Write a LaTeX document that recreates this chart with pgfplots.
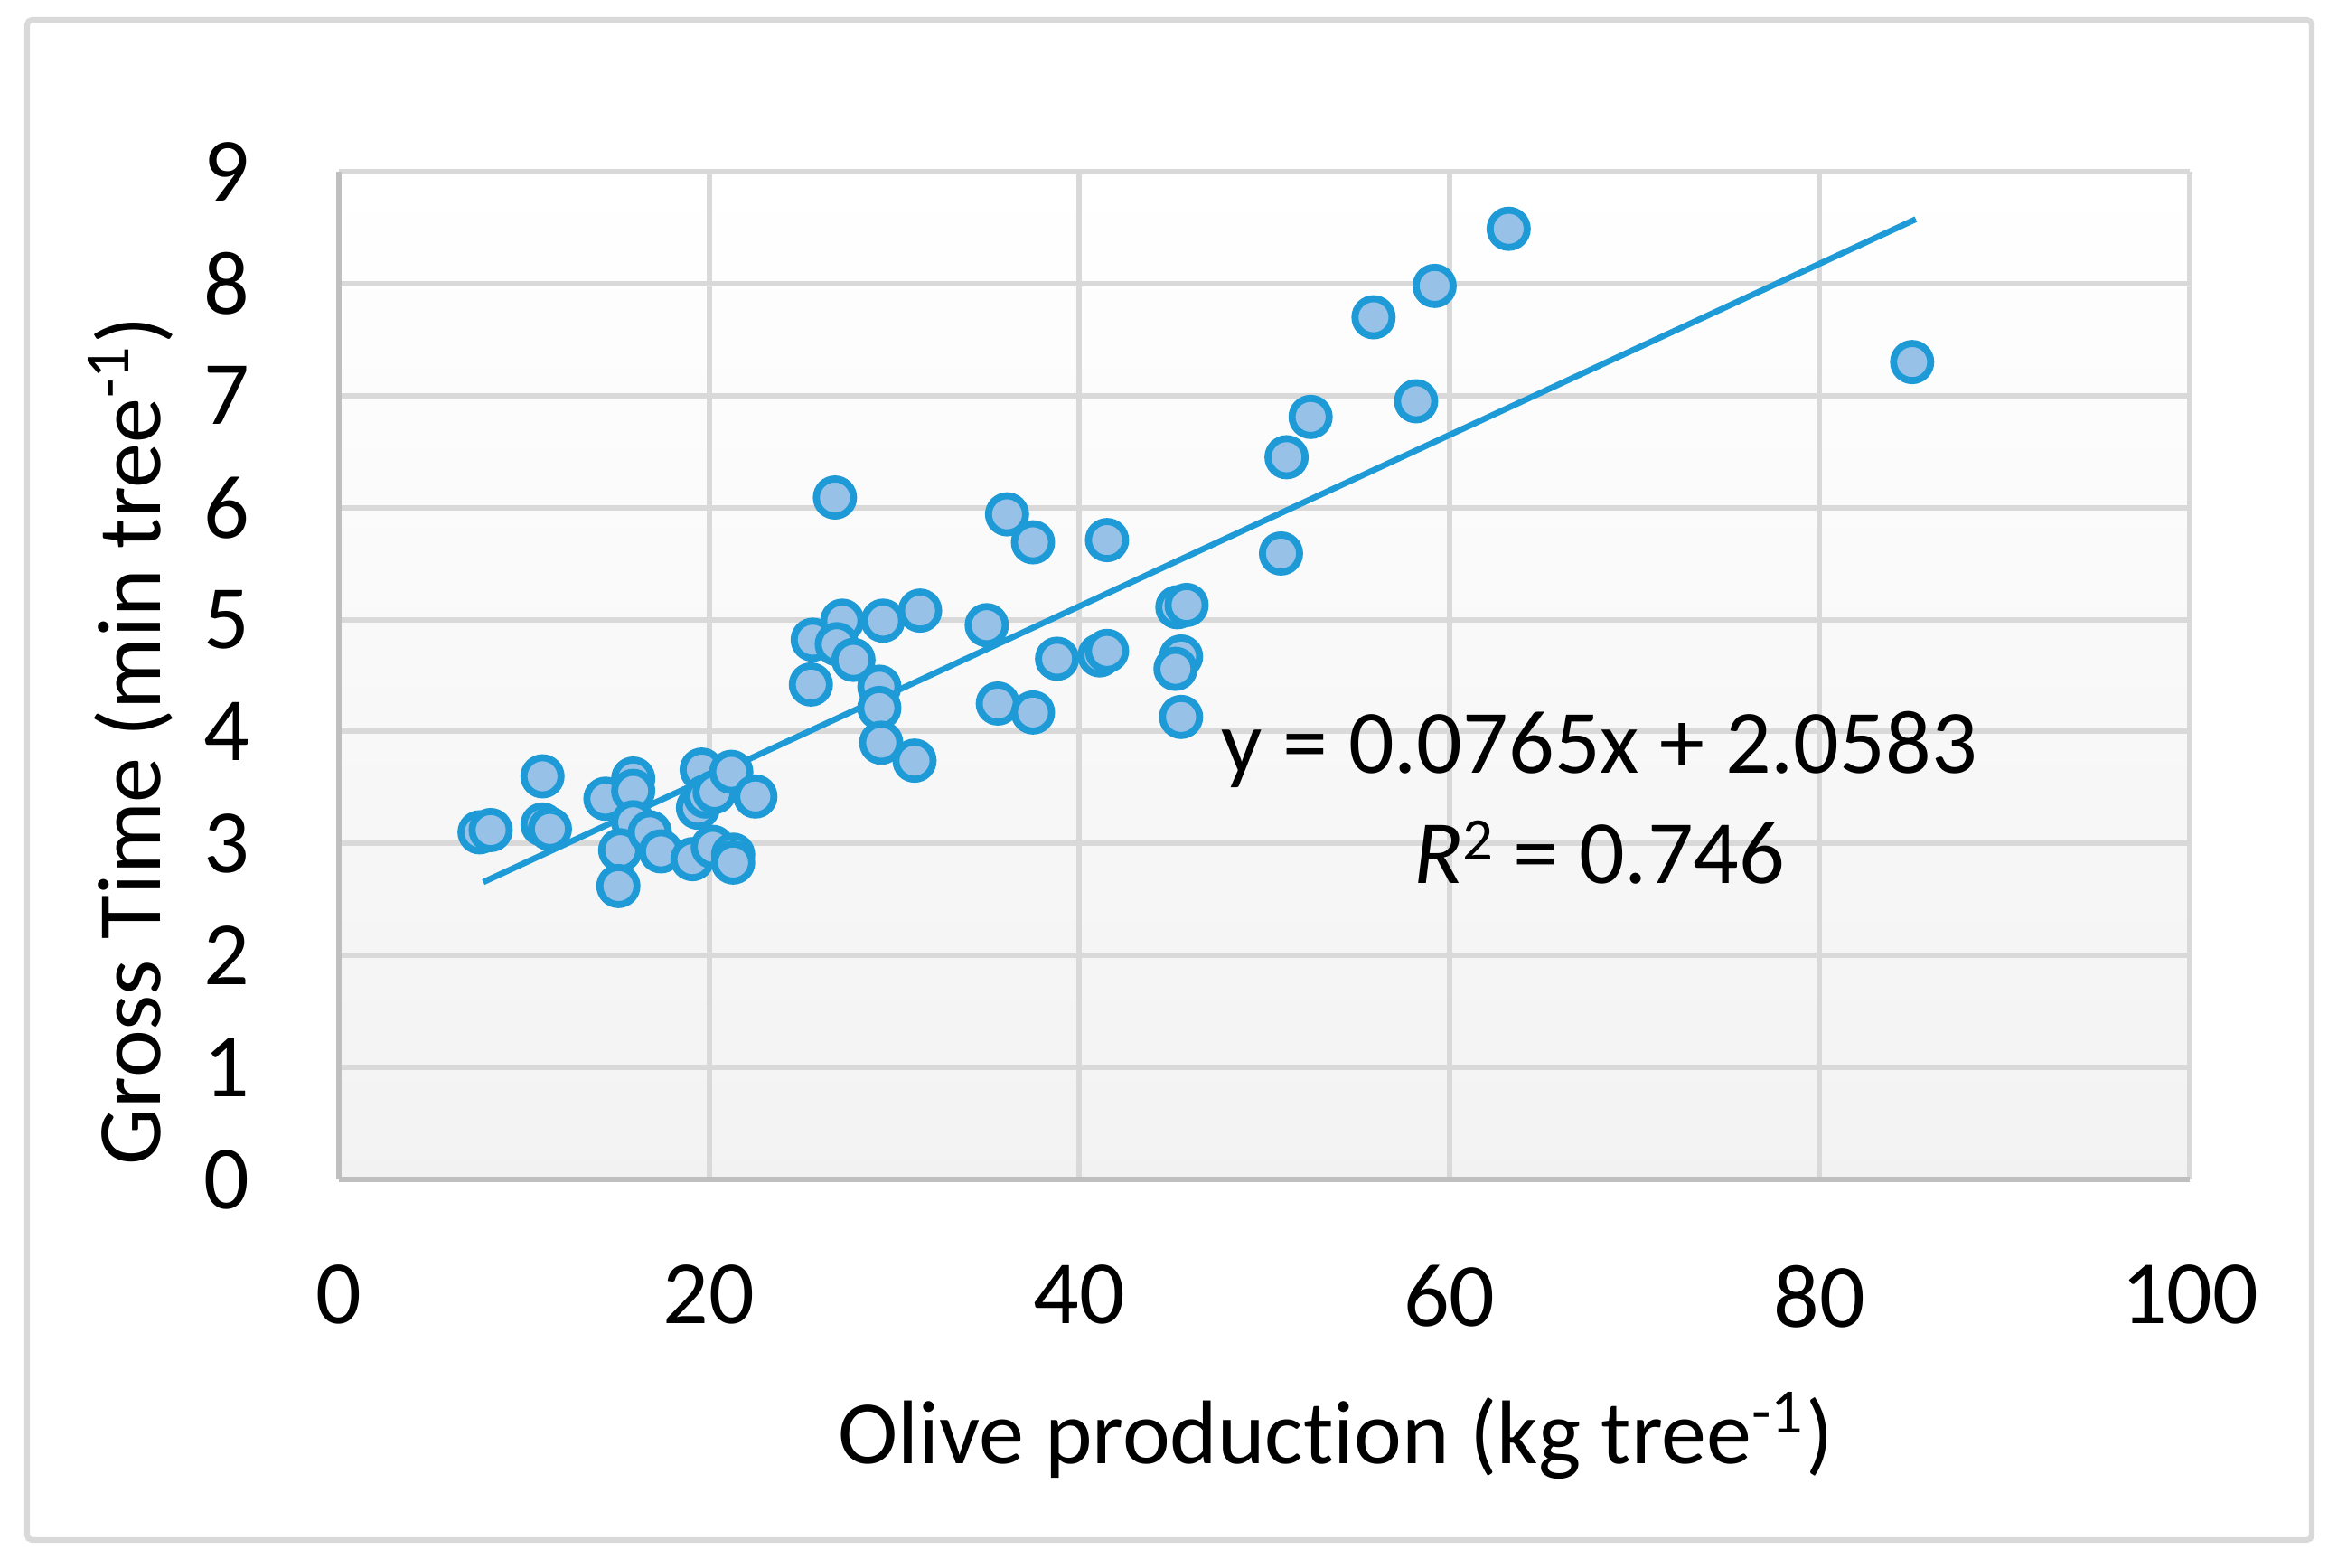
\documentclass[border=0pt]{standalone}
\usepackage{fontspec}
\setmainfont{Carlito}[Ligatures=NoCommon]
\usepackage{pgfplots}
\pgfplotsset{compat=1.18}
\definecolor{gridgray}{HTML}{D9D9D9}
\definecolor{axisgray}{HTML}{BFBFBF}
\definecolor{markblue}{HTML}{1E9BD7}
\definecolor{markfill}{HTML}{97C1E7}
\begin{document}
\begin{tikzpicture}
\useasboundingbox (0,0) rectangle (467.46pt,312.3pt);
\draw[gridgray, line width=1.1pt, rounded corners=1pt] (5.4pt,5.58pt) rectangle (460.44pt,308.34pt);
\begin{axis}[
  at={(67.5pt,77.4pt)}, anchor=south west,
  scale only axis, width=368.64pt, height=200.7pt,
  xmin=0, xmax=100, ymin=0, ymax=9,
  xtick={0,20,40,60,80,100}, ytick={0,1,2,3,4,5,6,7,8,9},
  major tick length=0pt,
  axis x line*=bottom, axis y line*=left,
  axis line style={draw=axisgray, line width=1.08pt, -},
  grid=major,
  major grid style={draw=gridgray, line width=1.08pt},
  axis background/.style={shade, top color=white, bottom color=black!5},
  /pgf/number format/assume math mode=true,
  tick label style={font=\fontsize{18}{22}\selectfont, inner sep=0pt},
  yticklabel style={anchor=east, xshift=-17.6pt},
  xticklabel style={anchor=north, yshift=-16.9pt},
  label style={font=\fontsize{18}{22}\selectfont, inner sep=0pt},
  xlabel={Olive production (kg tree\textsuperscript{-1})},
  ylabel={Gross Time (min tree\textsuperscript{-1})},
  xlabel style={at={(axis description cs:0.5386,-0.2825)}, anchor=base},
  ylabel style={at={(axis description cs:-0.0966,0.435)}, anchor=base, rotate=0},
  clip=false,
]
\addplot[only marks, mark=*, mark size=3.7pt,
  mark options={fill=markfill, draw=markblue, line width=1.4pt}]
coordinates {
(7.6,3.10) (8.2,3.12) (11.0,3.60) (11.0,3.17) (11.4,3.13) (14.4,3.40)
(15.9,3.58) (15.9,3.47) (15.9,3.19) (15.2,2.94) (15.1,2.62) (16.8,3.10)
(17.4,2.93) (19.1,2.86) (19.6,3.66) (19.4,3.32) (19.8,3.42) (20.3,3.46)
(21.2,3.64) (22.5,3.42) (20.2,2.97) (21.3,2.90) (21.3,2.83)
(25.5,4.42) (25.6,4.82) (26.8,6.09) (27.2,4.99) (26.9,4.78) (27.8,4.64)
(29.2,4.40) (29.2,4.21) (29.3,3.90) (29.4,4.99) (31.4,5.08) (31.1,3.74)
(35.0,4.95) (35.6,4.25) (36.1,5.94) (37.5,5.69) (37.5,4.17) (38.8,4.65)
(41.1,4.68) (41.5,4.72) (41.5,5.71) (45.3,5.11) (45.8,5.13) (45.5,4.67)
(45.2,4.56) (45.5,4.13) (50.9,5.59) (51.2,6.45) (52.5,6.81) (55.9,7.70)
(58.2,6.95) (59.2,7.98) (63.2,8.49) (85.0,7.30)
};
\addplot[draw=markblue, line width=1.2pt, no marks] coordinates {(7.8,2.655) (85.2,8.576)};
\node[anchor=base, font=\fontsize{18}{22}\selectfont, inner sep=0pt] at (axis cs:68.1,3.632) {y = 0.0765x + 2.0583};
\node[anchor=base, font=\fontsize{18}{22}\selectfont, inner sep=0pt] at (axis cs:68.1,2.64) {\textit{R}\raisebox{0.55ex}{\fontsize{12}{14}\selectfont 2} = 0.746};
\end{axis}
\end{tikzpicture}
\end{document}
